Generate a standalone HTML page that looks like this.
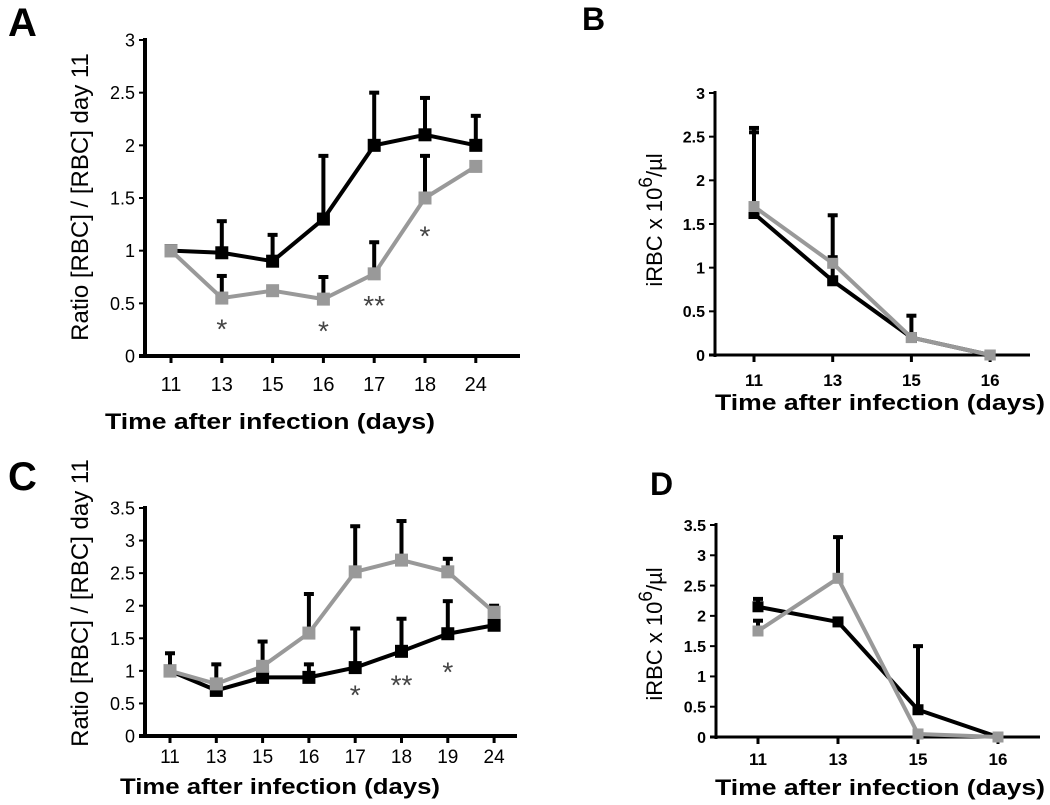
<!DOCTYPE html>
<html><head><meta charset="utf-8"><style>
body{margin:0;background:#fff;}
svg{display:block;font-family:"Liberation Sans",Arial,sans-serif;}
</style></head><body>
<svg id="fig" width="1050" height="805" viewBox="0 0 1050 805"></svg>
<script>
// Panel A data
const aCats=["11","13","15","16","17","18","24"];
const aBlack=[1,0.98,0.9,1.3,2.0,2.1,2.0];
const aBlackErr=[null,1.28,1.15,1.9,2.5,2.45,2.28];
const aGray=[1,0.55,0.62,0.54,0.78,1.5,1.8];
const aGrayErr=[null,0.76,null,0.75,1.08,1.9,null];
const aStars=["","*","","*","**","*",""];
const aStarVals=[null,0.3,null,0.28,0.52,1.18,null];
const aTicks=["0","0.5","1","1.5","2","2.5","3"];
// Panel B data
const bCats=["11","13","15","16"];
const bBlack=[1.62,0.85,0.2,0];
const bBlackErr=[2.55,1.12,0.45,null];
const bGray=[1.7,1.05,0.2,0];
const bGrayErr=[2.6,1.6,null,null];
const bTicks=["0","0.5","1","1.5","2","2.5","3"];
// Panel C data
const cCats=["11","13","15","16","17","18","19","24"];
const cBlack=[1,0.7,0.9,0.9,1.05,1.3,1.57,1.7];
const cBlackErr=[1.27,null,null,1.1,1.65,1.8,2.07,null];
const cGray=[1,0.8,1.07,1.58,2.52,2.7,2.52,1.9];
const cGrayErr=[null,1.1,1.45,2.18,3.22,3.3,2.72,2.0];
const cStars=["","","","","*","**","*",""];
const cStarVals=[null,null,null,null,0.7,0.85,1.05,null];
const cTicks=["0","0.5","1","1.5","2","2.5","3","3.5"];
// Panel D data
const dCats=["11","13","15","16"];
const dBlack=[2.15,1.9,0.45,0];
const dBlackErr=[2.28,null,1.5,null];
const dGray=[1.75,2.62,0.05,0];
const dGrayErr=[1.92,3.3,null,null];
const dTicks=["0","0.5","1","1.5","2","2.5","3","3.5"];

const svg=document.getElementById('fig');
const NS='http://www.w3.org/2000/svg';
function mk(tag,attrs,parent){const e=document.createElementNS(NS,tag);for(const k in attrs)e.setAttribute(k,attrs[k]);(parent||svg).appendChild(e);return e;}
function txt(s,attrs,parent){const e=mk('text',attrs,parent);e.textContent=s;return e;}

function panel(p){
  const g=mk('g',{});
  
  
  const ymax=parseFloat(p.ticks[p.ticks.length-1]);
  const Y=v=>p.y0-(v/ymax)*(p.y0-p.ytop);
  const X=i=>p.x0+i*p.dx;
  const ax=mk('line',{x1:p.ax,y1:p.ytop-2,x2:p.ax,y2:p.y0+2,stroke:'#000','stroke-width':p.aw},g);
  
  
  const xa=mk('line',{x1:p.ax-6,y1:p.y0,x2:p.xend,y2:p.y0,stroke:'#000','stroke-width':p.aw},g);
  
  
  p.ticks.forEach(t=>{
    const v=parseFloat(t),y=Y(v);
    mk('line',{x1:p.ax-6,y1:y,x2:p.ax,y2:y,stroke:'#000','stroke-width':2},g);
    const tl=txt(t,{x:p.ax-10,y:y+p.tfs*0.36,'text-anchor':'end','font-size':p.tfs,'font-weight':p.tfw},g);
    
    
  });
  p.cats.forEach((c,i)=>{
    mk('line',{x1:X(i),y1:p.y0,x2:X(i),y2:p.y0+7,stroke:'#000','stroke-width':3},g);
    const tl=txt(c,{x:X(i),y:p.tly,'text-anchor':'middle','font-size':p.xfs,'font-weight':p.tfw},g);
    
    
  });
  function errs(vals,err,col){
    err.forEach((e,i)=>{ if(e==null)return;
      const b=mk('line',{x1:X(i),y1:Y(vals[i]),x2:X(i),y2:Y(e),stroke:col,'stroke-width':4},g);
      
      
      mk('line',{x1:X(i)-5,y1:Y(e),x2:X(i)+5,y2:Y(e),stroke:col,'stroke-width':4},g);
    });
  }
  function series(vals,col,nm){
    const pts=vals.map((v,i)=>X(i)+','+Y(v)).join(' ');
    const l=mk('polyline',{points:pts,fill:'none',stroke:col,'stroke-width':4,'stroke-linejoin':'round'},g);
    
    
    vals.forEach((v,i)=>{
      const r=mk('rect',{x:X(i)-p.ms/2,y:Y(v)-p.ms/2,width:p.ms,height:p.ms,fill:col},g);
      
      
    });
  }
  errs(p.black,p.blackErr,'#000');
  errs(p.gray,p.grayErr,'#000');
  series(p.black,'#000','black-series');
  series(p.gray,'#999','gray-series');
  if(p.stars){p.stars.forEach((s,i)=>{ if(!s)return;
    const t=txt(s,{x:X(i),y:Y(p.starVals[i])+14,'text-anchor':'middle','font-size':28,fill:'#444'},g);
    
    
  });}
  const xt=txt('Time after infection (days)',{x:p.xtx,y:p.xty,'text-anchor':'middle','font-size':22,'font-weight':'bold',textLength:p.xtw,lengthAdjust:'spacingAndGlyphs'},g);
  
  
  const yt=mk('text',{transform:`translate(${p.ytx},${p.yty}) rotate(-90)`,'text-anchor':'middle','font-size':p.ytfs},g);
  
  
  if(p.iRBC){
    yt.innerHTML='iRBC x 10<tspan dy="-10" font-size="'+(p.ytfs-3)+'">6</tspan><tspan dy="10">/µl</tspan>';
  } else yt.textContent='Ratio [RBC] / [RBC] day 11';
  const L=txt(p.letter,{x:p.lx,y:p.ly,'font-size':p.lfs,'font-weight':'bold'},g);
  
  
}

panel({name:'panel-a',letter:'A',lx:8,ly:36,lfs:40,cats:aCats,black:aBlack,blackErr:aBlackErr,gray:aGray,grayErr:aGrayErr,stars:aStars,starVals:aStarVals,ticks:aTicks,
  ax:145,y0:356,ytop:40,x0:171,dx:50.8,xend:520,aw:4,tfs:18,xfs:20,tfw:'normal',tly:391,ms:13,xtx:270,xty:429,xtw:330,ytx:88,yty:197,ytfs:24});
panel({name:'panel-b',letter:'B',lx:582,ly:30,lfs:32,cats:bCats,black:bBlack,blackErr:bBlackErr,gray:bGray,grayErr:bGrayErr,ticks:bTicks,
  ax:715,y0:355,ytop:93,x0:754,dx:78.7,xend:1030,aw:3,tfs:16,xfs:17,tfw:'bold',tly:386,ms:11,xtx:880,xty:410,xtw:330,ytx:662,yty:220,ytfs:22,iRBC:true});
panel({name:'panel-c',letter:'C',lx:8,ly:490,lfs:40,cats:cCats,black:cBlack,blackErr:cBlackErr,gray:cGray,grayErr:cGrayErr,stars:cStars,starVals:cStarVals,ticks:cTicks,
  ax:145,y0:736,ytop:508,x0:170,dx:46.3,xend:517,aw:4,tfs:18,xfs:19,tfw:'normal',tly:763,ms:13,xtx:280,xty:794,xtw:320,ytx:88,yty:603,ytfs:24});
panel({name:'panel-d',letter:'D',lx:650,ly:495,lfs:32,cats:dCats,black:dBlack,blackErr:dBlackErr,gray:dGray,grayErr:dGrayErr,ticks:dTicks,
  ax:716,y0:737,ytop:525,x0:758,dx:80,xend:1040,aw:3,tfs:16,xfs:17,tfw:'bold',tly:765,ms:11,xtx:880,xty:795,xtw:330,ytx:662,yty:634,ytfs:22,iRBC:true});
</script>
</body></html>
